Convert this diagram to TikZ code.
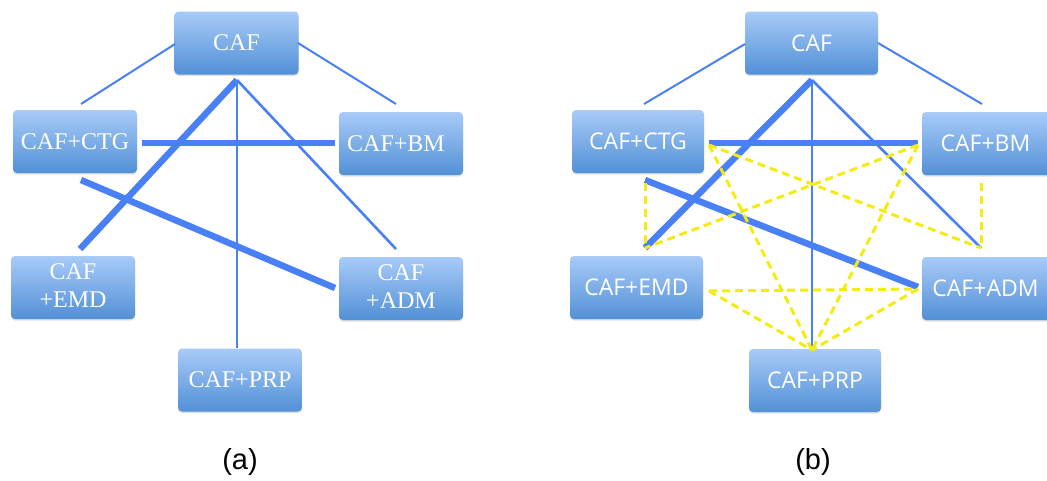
\documentclass[tikz,border=0pt]{standalone}
\usepackage{fontspec}
\setmainfont{Liberation Serif}
\newfontfamily\bsans{Open Sans}
\newfontfamily\lsans{Liberation Sans}
\usetikzlibrary{shadows}
\definecolor{boxtop}{HTML}{A8CBF8}
\definecolor{boxbot}{HTML}{5290D6}
\definecolor{lblue}{HTML}{4A80F5}
\definecolor{ydash}{HTML}{F4EC10}
\newcommand{\lowtxt}[1]{\raisebox{-3pt}{#1}}
\newcommand{\twoline}[2]{\raisebox{-3pt}{\begin{tabular}{@{}c@{}}#1\\#2\end{tabular}}}
\tikzset{
 cbox/.style={rectangle, rounded corners=4pt, top color=boxtop, bottom color=boxbot, draw=none, text=white, align=center, minimum width=124pt, minimum height=63pt, inner sep=0pt, drop shadow={opacity=0.25, shadow xshift=0pt, shadow yshift=-1.5pt}},
 serifbox/.style={cbox, font=\fontsize{24}{28}\selectfont},
 sansbox/.style={cbox, minimum width=133pt, font=\bsans\fontsize{23}{26}\selectfont},
 hairline/.style={draw=lblue, line width=1.4pt},
 thinline/.style={draw=lblue, line width=2pt},
 medline/.style={draw=lblue, line width=2.6pt},
 thickline/.style={draw=lblue, line width=6.5pt},
 yline/.style={draw=ydash, line width=3pt, dash pattern=on 8pt off 5pt},
 caption/.style={font=\lsans\fontsize{29}{30}\selectfont, text=black},
}
\begin{document}
\begin{tikzpicture}[x=1pt,y=-1pt]
\useasboundingbox (0,0) rectangle (1047,480);
\clip (0,0) rectangle (1047,480);
% ---------------- panel (a)
\node[serifbox] (aCAF) at (236.5,43) {\lowtxt{CAF}};
\node[serifbox] (aCTG) at (75,141.5) {\lowtxt{CAF+CTG}};
\node[serifbox] (aBM) at (401,143.5) {\lowtxt{\hspace*{-10pt}CAF+BM}};
\node[serifbox] (aEMD) at (73,287.5) {\twoline{CAF}{+EMD}};
\node[serifbox] (aADM) at (401,288.5) {\twoline{CAF}{+ADM}};
\node[serifbox] (aPRP) at (240,380) {\lowtxt{CAF+PRP}};
\coordinate (aCAFl) at (175,44);
\coordinate (aCAFr) at (298,43);
\coordinate (aCTGt) at (81,104);
\coordinate (aBMt) at (396,104);
\coordinate (aApex) at (237,80);
\coordinate (aEMDt) at (80,249);
\coordinate (aADMt) at (396,249);
\coordinate (aPRPt) at (237,348);
\coordinate (aCTGr) at (142,143);
\coordinate (aBMl) at (335,143);
\coordinate (aCTGb) at (81,180);
\coordinate (aADMl) at (335,288);
\draw[thinline] (aCAFl) -- (aCTGt);
\draw[thinline] (aCAFr) -- (aBMt);
\draw[thickline] (aApex) -- (aEMDt);
\draw[hairline] (aApex) -- (aPRPt);
\draw[medline] (aApex) -- (aADMt);
\draw[thickline] (aCTGr) -- (aBMl);
\draw[thickline] (aCTGb) -- (aADMl);
\node[caption] (capa) at (240,462) {(a)};
% ---------------- panel (b)
\node[sansbox] (bCAF) at (811.5,43) {\lowtxt{CAF}};
\node[sansbox, minimum width=132pt] (bCTG) at (638,141.5) {\lowtxt{CAF+CTG}};
\node[sansbox] (bBM) at (988.5,143.5) {\lowtxt{\hspace*{-6pt}CAF+BM}};
\node[sansbox] (bEMD) at (636.5,287.5) {\lowtxt{CAF+EMD}};
\node[sansbox] (bADM) at (988.5,288.5) {\lowtxt{\hspace*{-6pt}CAF+ADM}};
\node[sansbox, minimum width=132pt] (bPRP) at (815,380.5) {\lowtxt{CAF+PRP}};
\coordinate (bCAFl) at (745,44);
\coordinate (bCAFr) at (878,43);
\coordinate (bCTGt) at (644,104);
\coordinate (bBMt) at (982,104);
\coordinate (bApex) at (812,80);
\coordinate (bEMDt) at (645,248);
\coordinate (bADMt) at (981,248);
\coordinate (bPRPt) at (812,350);
\coordinate (bCTGr) at (709,143);
\coordinate (bBMl) at (918,143);
\coordinate (bCTGb) at (645,180);
\coordinate (bADMl) at (918,287);
\coordinate (yA) at (709,145);
\coordinate (yB) at (918,145);
\coordinate (yC) at (645,183);
\coordinate (yE) at (981,183);
\coordinate (yG) at (709,291);
\coordinate (yH) at (918,289);
\draw[thinline] (bCAFl) -- (bCTGt);
\draw[thinline] (bCAFr) -- (bBMt);
\draw[thickline] (bApex) -- (bEMDt);
\draw[hairline] (bApex) -- (bPRPt);
\draw[medline] (bApex) -- (bADMt);
\draw[thickline] (bCTGr) -- (bBMl);
\draw[thickline] (bCTGb) -- (bADMl);
\draw[yline] (yC) -- (bEMDt);
\draw[yline] (yE) -- (bADMt);
\draw[yline] (yA) -- (bADMt);
\draw[yline] (yB) -- (bEMDt);
\draw[yline] (yA) -- (bPRPt);
\draw[yline] (yB) -- (bPRPt);
\draw[yline] (yG) -- (yH);
\draw[yline] (yG) -- (bPRPt);
\draw[yline] (yH) -- (bPRPt);
\node[caption] (capb) at (813,462) {(b)};
\end{tikzpicture}
\end{document}
